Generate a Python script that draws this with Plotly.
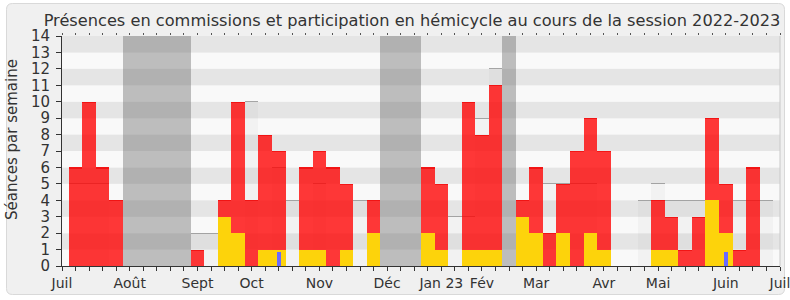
import plotly.graph_objects as go

# ---------------- data ----------------
weeks = list(range(52))  # week index, July 2022 -> June 2023
commission = [6, 10, 6, 4, 0, 0, 0, 0, 0, 1, 0, 4, 10, 4, 8, 7, 0, 6, 7, 6,
              5, 0, 4, 0, 0, 0, 6, 5, 0, 10, 8, 11, 0, 4, 6, 2, 5, 7, 9, 7,
              0, 0, 0, 4, 3, 1, 3, 9, 5, 1, 6, 0]
hemicycle_interv = [0, 0, 0, 0, 0, 0, 0, 0, 0, 0, 0, 3, 2, 0, 1, 1, 0, 1, 1, 0,
                    1, 0, 2, 0, 0, 0, 2, 1, 0, 1, 1, 1, 0, 3, 2, 0, 2, 0, 2, 1,
                    0, 0, 0, 1, 1, 0, 0, 4, 2, 0, 0, 0]
questions = [0, 0, 0, 0, 0, 0, 0, 0, 0, 0, 0, 0, 0, 0, 0, 0.85, 0, 0, 0, 0,
             0, 0, 0, 0, 0, 0, 0, 0, 0, 0, 0, 0, 0, 0, 0, 0, 0, 0, 0, 0,
             0, 0, 0, 0, 0, 0, 0, 0, 0.85, 0, 0, 0]
hemicycle_presence = [5, 5, 5, 0, 0, 0, 0, 0, 0, 2, 2, 0, 0, 10, 0, 6, 4, 0, 5, 0,
                      0, 4, 0, 0, 0, 0, 0, 0, 3, 3, 9, 12, 0, 0, 0, 5, 5, 5, 5, 0,
                      0, 0, 4, 5, 4, 4, 4, 0, 0, 4, 4, 4]
vacances = [4, 5, 6, 7, 8, 23, 24, 25, 32]
month_pos = [-1, 4, 9, 13, 18, 23, 27, 30, 34, 39, 43, 48, 52]
month_labels = ["Juil", "Août", "Sept", "Oct", "Nov", "Déc", "Jan 23", "Fév",
                "Mar", "Avr", "Mai", "Juin", "Juil"]
y_max = 14
title = "Présences en commissions et participation en hémicycle au cours de la session 2022-2023"
y_title = "Séances par semaine"

# ---------------- figure ----------------
W, H = 790, 300
L, R, T, B = 62, 10, 36, 34
PW, PH = W - L - R, H - T - B
X_RANGE = [-1, 52]
FONT = "DejaVu Sans"


def px(x):
    return (x - L) / PW


def py(y):
    return (H - B - y) / PH


fig = go.Figure()

# vacation weeks
fig.add_trace(go.Bar(
    x=weeks, y=[y_max if w in vacances else None for w in weeks],
    width=1, marker=dict(color="rgba(110,110,110,0.43)", line=dict(width=0)),
    hoverinfo="skip"))

# hemicycle presence (light grey) + top line
fig.add_trace(go.Bar(
    x=weeks, y=[v if v else None for v in hemicycle_presence],
    width=1, marker=dict(color="rgba(160,160,160,0.07)", line=dict(width=0)),
    hoverinfo="skip"))
fig.add_trace(go.Bar(
    x=weeks, y=[0.07 if v else None for v in hemicycle_presence],
    base=[v - 0.035 if v else None for v in hemicycle_presence],
    width=1, marker=dict(color="rgba(150,150,150,0.85)", line=dict(width=0)),
    hoverinfo="skip"))

# commission presence (red)
fig.add_trace(go.Bar(
    x=weeks, y=[v if v else None for v in commission],
    width=1, marker=dict(color="rgba(255,0,0,0.78)", line=dict(width=0)),
    hoverinfo="skip"))
fig.add_trace(go.Bar(
    x=weeks, y=[0.07 if v else None for v in commission],
    base=[v - 0.07 if v else None for v in commission],
    width=1, marker=dict(color="rgba(235,0,0,0.6)", line=dict(width=0)),
    hoverinfo="skip"))

# hemicycle interventions (yellow)
fig.add_trace(go.Bar(
    x=weeks, y=[v if v else None for v in hemicycle_interv],
    width=1, marker=dict(color="#fdd30b", line=dict(width=0)),
    hoverinfo="skip"))

# questions (blue)
fig.add_trace(go.Bar(
    x=weeks, y=[v if v else None for v in questions],
    width=0.3, marker=dict(color="#6a6aff", line=dict(width=0)),
    hoverinfo="skip"))

# top tick dots
fig.add_trace(go.Scatter(x=[None], y=[None], xaxis="x2", showlegend=False))

shapes = []
# outer rounded frame
x0, x1, y0, y1, r = 6.5, 784.5, 3.5, 294.5, 6
path = (f"M {px(x0 + r)},{py(y0)} L {px(x1 - r)},{py(y0)} "
        f"Q {px(x1)},{py(y0)} {px(x1)},{py(y0 + r)} "
        f"L {px(x1)},{py(y1 - r)} Q {px(x1)},{py(y1)} {px(x1 - r)},{py(y1)} "
        f"L {px(x0 + r)},{py(y1)} Q {px(x0)},{py(y1)} {px(x0)},{py(y1 - r)} "
        f"L {px(x0)},{py(y0 + r)} Q {px(x0)},{py(y0)} {px(x0 + r)},{py(y0)} Z")
shapes.append(dict(type="path", path=path, xref="paper", yref="paper",
                   fillcolor="#f0f0f0", line=dict(color="#d9d9d9", width=1),
                   layer="below"))
# stripes
for k in range(y_max):
    shapes.append(dict(type="rect", xref="x", yref="y", x0=X_RANGE[0], x1=X_RANGE[1],
                       y0=k, y1=k + 1, layer="below", line=dict(width=0),
                       fillcolor="#e5e5e5" if k % 2 else "#f9f9f9"))
# right border
shapes.append(dict(type="line", xref="paper", yref="paper", x0=1, x1=1, y0=0, y1=1,
                   line=dict(color="#c8c8c8", width=1)))
fig.update_layout(shapes=shapes)

fig.add_annotation(text=y_title, textangle=-90, xref="paper", yref="paper",
                   x=px(12), y=py(140), xanchor="center", yanchor="middle",
                   showarrow=False,
                   font=dict(size=15, family=FONT, color="#333333"))

fig.update_layout(
    width=W, height=H,
    margin=dict(l=L, r=R, t=T, b=B, pad=0, autoexpand=False),
    paper_bgcolor="white", plot_bgcolor="rgba(0,0,0,0)",
    barmode="overlay", bargap=0, showlegend=False,
    font=dict(family=FONT, color="#333333", size=14),
    title=dict(text=title, x=412 / W, xanchor="center", y=1 - 20 / H, yanchor="middle",
               xref="container", yref="container",
               font=dict(family=FONT, size=16.2, color="#333333")),
    xaxis=dict(range=X_RANGE, tickmode="array", tickvals=month_pos, ticktext=month_labels,
               ticks="outside", ticklen=4, tickcolor="#333333", tickwidth=1,
               minor=dict(tickmode="linear", tick0=-1, dtick=1, ticks="outside",
                          ticklen=4, tickcolor="#333333", tickwidth=1, showgrid=False),
               showgrid=False, zeroline=False, showline=True, linecolor="#333333",
               linewidth=1, tickfont=dict(size=14, family=FONT, color="#333333"),
               ticklabeloverflow="allow", automargin=False, fixedrange=True),
    xaxis2=dict(range=X_RANGE, overlaying="x", side="top", tickmode="linear", tick0=-1,
                dtick=1, ticks="outside", ticklen=2, tickcolor="#555555",
                showticklabels=False, showgrid=False, zeroline=False, showline=False,
                automargin=False),
    yaxis=dict(range=[0, y_max], tickmode="linear", tick0=0, dtick=1,
               ticks="outside", ticklen=5, tickcolor="#333333", tickwidth=1,
               showgrid=False, zeroline=False, showline=True, linecolor="#333333",
               linewidth=1, tickfont=dict(size=15, family=FONT, color="#333333"),
               ticklabelstandoff=3, automargin=False, fixedrange=True),
)

fig.write_html("out.html")
